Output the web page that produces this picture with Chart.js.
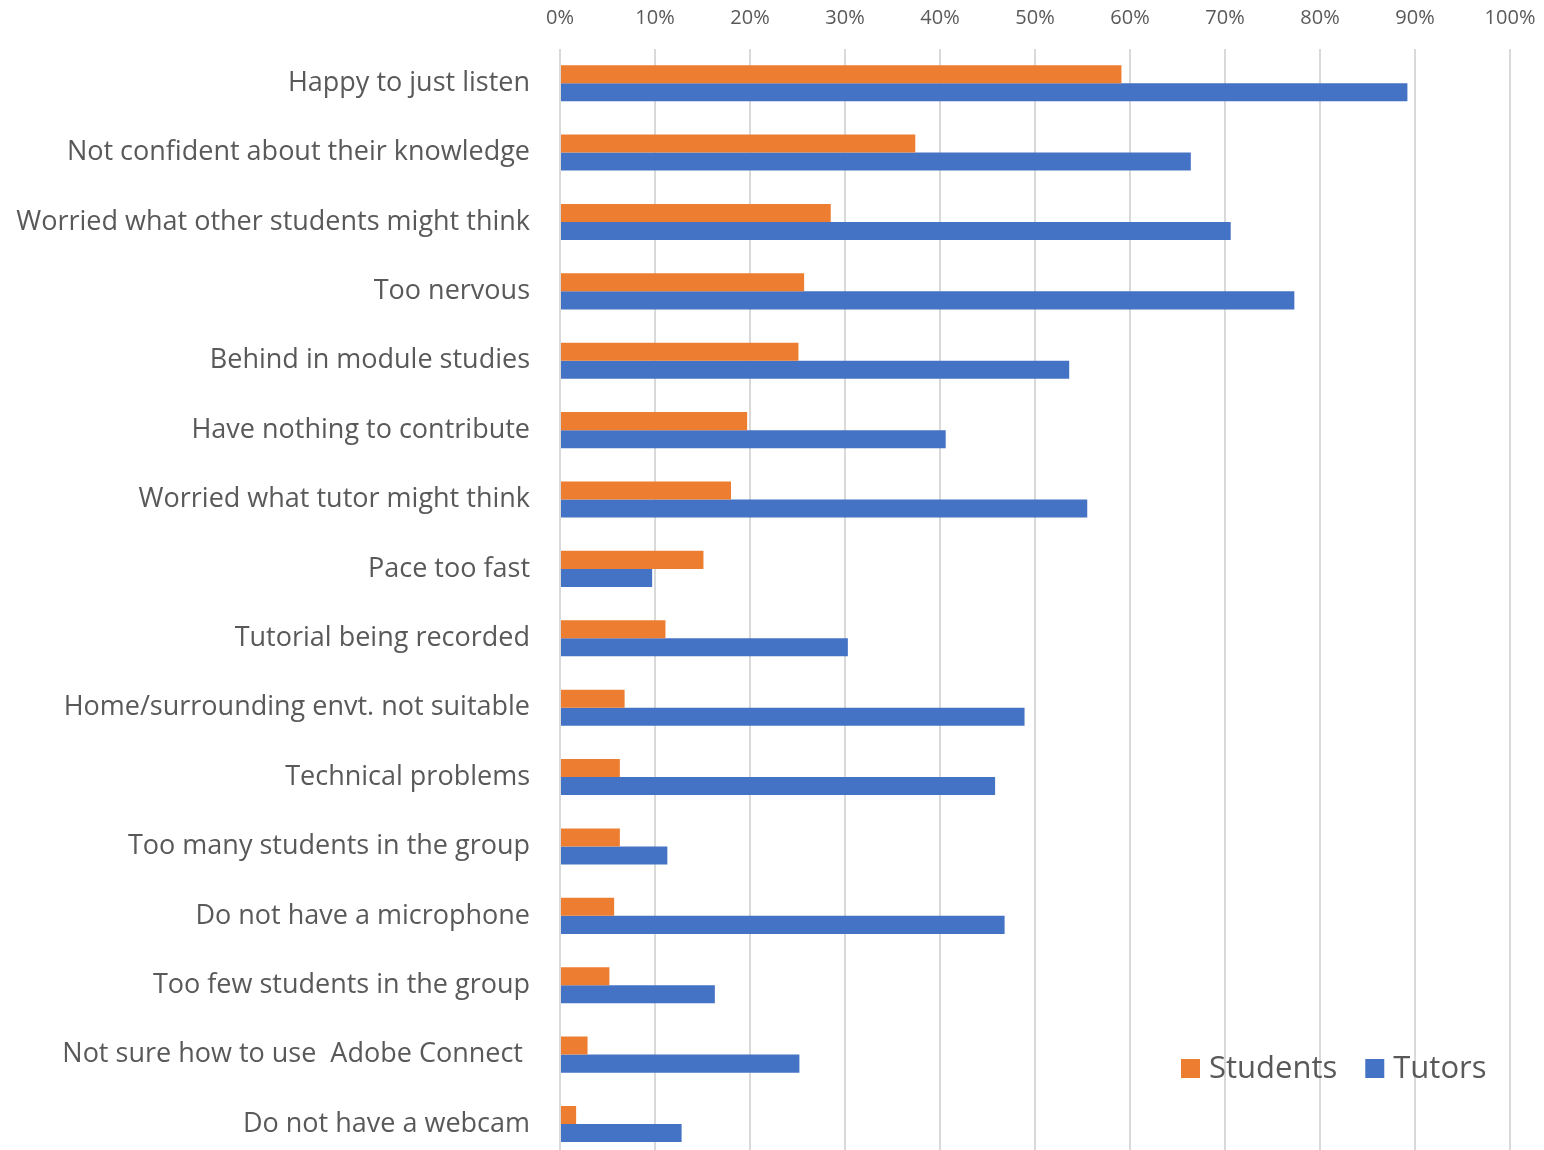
<!DOCTYPE html>
<html>
<head>
<meta charset="utf-8">
<script src="https://cdn.jsdelivr.net/npm/chart.js@4"></script>
<style>
  html, body { margin: 0; padding: 0; background: #fff; overflow: hidden; }
  #wrap { width: 1544px; height: 1150px; overflow: hidden; }
  canvas { display: block; }
</style>
</head>
<body>
<div id="wrap"><canvas id="c" width="1544" height="1160"></canvas></div>
<script>
const categories = [
  "Happy to just listen",
  "Not confident about their knowledge",
  "Worried what other students might think",
  "Too nervous",
  "Behind in module studies",
  "Have nothing to contribute",
  "Worried what tutor might think",
  "Pace too fast",
  "Tutorial being recorded",
  "Home/surrounding envt. not suitable",
  "Technical problems",
  "Too many students in the group",
  "Do not have a microphone",
  "Too few students in the group",
  "Not sure how to use  Adobe Connect ",
  "Do not have a webcam"
];
const students = [59.1, 37.4, 28.5, 25.7, 25.1, 19.7, 18.0, 15.1, 11.1, 6.8, 6.3, 6.3, 5.7, 5.2, 2.9, 1.7];
const tutors   = [89.2, 66.4, 70.6, 77.3, 53.6, 40.6, 55.5, 9.7, 30.3, 48.9, 45.8, 11.3, 46.8, 16.3, 25.2, 12.8];
const seriesNames = ["Students", "Tutors"];
const seriesColors = ["#ED7D31", "#4472C4"];

const FONT = "'Open Sans', 'DejaVu Sans', sans-serif";
const TEXT = "#595959";

// Drop the extra edge padding a scale asks for around its outer tick labels
function noEdgePadding(s) {
  s.paddingTop = 0; s.paddingBottom = 0; s.paddingLeft = 0; s.paddingRight = 0;
}

// Legend drawn inside the plot, lower right
const cornerLegend = {
  id: 'cornerLegend',
  afterDraw(chart) {
    const ctx = chart.ctx;
    ctx.save();
    ctx.font = "31px " + FONT;
    ctx.textBaseline = "middle";
    ctx.textAlign = "left";
    const y = 1068;
    let x = 1181;
    chart.data.datasets.forEach((ds) => {
      ctx.fillStyle = ds.backgroundColor;
      ctx.fillRect(x, y - 9, 19, 19);
      ctx.fillStyle = TEXT;
      ctx.fillText(ds.label, x + 28, y + 1);
      x += 28 + ctx.measureText(ds.label).width + 28;
    });
    ctx.restore();
  }
};

new Chart(document.getElementById('c'), {
  type: 'bar',
  data: {
    labels: categories,
    datasets: seriesNames.map((name, i) => ({
      label: name,
      data: i === 0 ? students : tutors,
      backgroundColor: seriesColors[i]
    }))
  },
  options: {
    indexAxis: 'y',
    responsive: false,
    animation: false,
    layout: { autoPadding: false, padding: { top: 0, right: 34, bottom: 1.3, left: 0 } },
    datasets: { bar: { categoryPercentage: 0.52, barPercentage: 1.0 } },
    plugins: {
      legend: { display: false },
      tooltip: { enabled: false }
    },
    scales: {
      x: {
        position: 'top',
        min: 0,
        max: 100,
        afterFit(s) { noEdgePadding(s); s.height = 48.5; },
        ticks: {
          stepSize: 10,
          padding: 18,
          color: TEXT,
          font: { family: FONT, size: 20 },
          callback: v => v + '%'
        },
        grid: { color: '#D9D9D9', lineWidth: 2, drawTicks: false },
        border: { display: false }
      },
      y: {
        afterFit(s) { noEdgePadding(s); s.width = 560; },
        ticks: {
          padding: 30,
          color: TEXT,
          font: { family: FONT, size: 27 }
        },
        grid: { display: false, drawTicks: false },
        border: { display: false }
      }
    }
  },
  plugins: [cornerLegend]
});
</script>
</body>
</html>
